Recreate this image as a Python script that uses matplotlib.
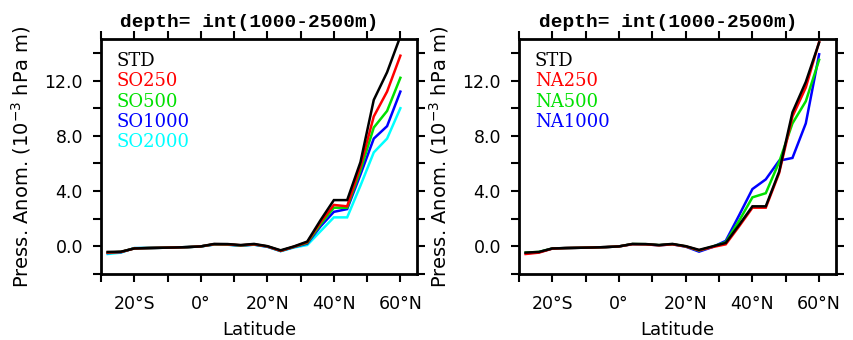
import numpy as np
import matplotlib
matplotlib.use("Agg")
import matplotlib.pyplot as plt

# latitudes of the zonal-mean points
lat = [-28, -24, -20, -16, -12, -8, -4, 0, 4, 8, 12, 16, 20, 24, 28, 32, 36, 40, 44, 48, 52, 56, 60]

# left panel: southern ocean runs
std_l  = [-0.40, -0.38, -0.15, -0.12, -0.10, -0.08, -0.05, 0.00, 0.18, 0.17, 0.10, 0.18, 0.02, -0.28, 0.00, 0.35, 1.90, 3.35, 3.35, 6.10, 10.60, 12.60, 15.20]
so250  = [-0.45, -0.40, -0.15, -0.12, -0.10, -0.08, -0.05, 0.00, 0.16, 0.15, 0.08, 0.15, 0.00, -0.32, -0.02, 0.30, 1.75, 3.00, 2.90, 5.80, 9.40, 11.20, 13.80]
so500  = [-0.45, -0.40, -0.14, -0.12, -0.10, -0.08, -0.05, 0.00, 0.15, 0.14, 0.07, 0.14, 0.00, -0.32, -0.03, 0.25, 1.60, 2.80, 2.80, 5.50, 8.60, 9.80, 12.20]
so1000 = [-0.48, -0.42, -0.13, -0.12, -0.10, -0.08, -0.05, 0.00, 0.14, 0.13, 0.06, 0.13, -0.02, -0.33, -0.05, 0.20, 1.45, 2.50, 2.70, 5.20, 7.80, 8.70, 11.20]
so2000 = [-0.55, -0.45, -0.12, -0.11, -0.10, -0.08, -0.05, 0.00, 0.13, 0.12, 0.05, 0.12, -0.03, -0.35, -0.08, 0.10, 1.10, 2.10, 2.10, 4.40, 6.80, 7.80, 10.00]

# right panel: north atlantic runs
std_r  = [-0.45, -0.40, -0.15, -0.12, -0.10, -0.08, -0.05, 0.00, 0.18, 0.17, 0.10, 0.18, 0.02, -0.25, 0.00, 0.25, 1.55, 2.90, 2.90, 5.40, 9.70, 11.90, 14.75]
na250  = [-0.55, -0.45, -0.16, -0.12, -0.10, -0.08, -0.05, 0.00, 0.16, 0.15, 0.08, 0.15, 0.00, -0.28, -0.05, 0.15, 1.45, 2.80, 2.80, 5.30, 9.40, 11.50, 14.80]
na500  = [-0.45, -0.40, -0.15, -0.12, -0.10, -0.08, -0.05, 0.00, 0.17, 0.16, 0.09, 0.16, 0.00, -0.30, -0.02, 0.30, 1.85, 3.55, 3.85, 6.10, 8.90, 10.50, 13.50]
na1000 = [-0.50, -0.42, -0.15, -0.12, -0.10, -0.08, -0.05, 0.00, 0.16, 0.15, 0.08, 0.15, -0.02, -0.38, -0.05, 0.40, 2.25, 4.15, 4.85, 6.20, 6.40, 8.90, 13.90]

left_names = ["STD", "SO250", "SO500", "SO1000", "SO2000"]
right_names = ["STD", "NA250", "NA500", "NA1000"]
colors = ["black", "#ff0000", "#00e000", "#0000ff", "#00ffff"]

xmaj = [-20, 0, 20, 40, 60]
xlab = ["20°S", "0°", "20°N", "40°N", "60°N"]
xmin_ = [-30, -10, 10, 30, 50]
ymaj = [0, 4, 8, 12]
ylab = ["0.0", "4.0", "8.0", "12.0"]
ymin_ = [-2, 2, 6, 10, 14]

fig = plt.figure(figsize=(8.54, 3.4), dpi=100)
ax1 = fig.add_axes([0.1183, 0.194, 0.370, 0.691])
ax2 = fig.add_axes([0.6077, 0.194, 0.371, 0.691])


def setup(ax, series, names):
    # plot coloured runs first so STD sits on top
    for s, c in list(zip(series, colors))[1:][::-1]:
        ax.plot(lat, s, color=c, lw=1.8, solid_joinstyle="miter")
    ax.plot(lat, series[0], color="black", lw=1.8, solid_joinstyle="miter")
    ax.set_xlim(-30, 65)
    ax.set_ylim(-2, 15)
    ax.set_xticks(xmaj)
    ax.set_xticklabels(xlab)
    ax.set_xticks(xmin_, minor=True)
    ax.set_yticks(ymaj)
    ax.set_yticklabels(ylab)
    ax.set_yticks(ymin_, minor=True)
    ax.tick_params(which="both", direction="out", top=True, right=True,
                   length=6, width=1.5, labelsize=12.5)
    ax.tick_params(axis="x", pad=9)
    ax.tick_params(axis="y", pad=7)
    for sp in ax.spines.values():
        sp.set_linewidth(2)
    ax.set_xlabel("Latitude", fontsize=13, labelpad=6)
    ax.set_ylabel("Press. Anom. (10$^{-3}$ hPa m)", fontsize=14, labelpad=8)
    ax.set_title("depth= int(1000-2500m)", family="Liberation Mono",
                 fontweight="bold", fontsize=14, pad=9, x=0.47)
    for i, (n, c) in enumerate(zip(names, colors)):
        ax.text(0.05, 0.906 - i * 0.0864, n, color=c, transform=ax.transAxes,
                family="DejaVu Serif", fontsize=13, va="center", ha="left")


setup(ax1, [std_l, so250, so500, so1000, so2000], left_names)
setup(ax2, [std_r, na250, na500, na1000], right_names)

fig.savefig("out.png", dpi=100)
